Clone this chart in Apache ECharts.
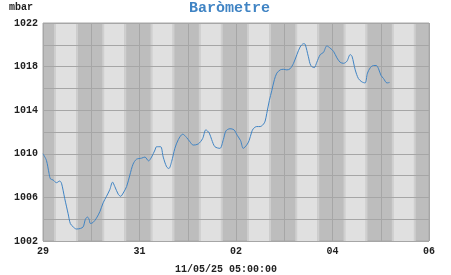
<!DOCTYPE html>
<html>
<head>
<meta charset="utf-8">
<script src="https://cdn.jsdelivr.net/npm/echarts@6/dist/echarts.min.js"></script>
<style>html,body{margin:0;padding:0;background:#fff}#c{width:451px;height:275px}</style>
</head>
<body>
<div id="c"></div>
<script>
// hours since 29 00:00
const hours = [0,1.7,3,3.7,5,6.7,8.3,9.2,10.8,12.5,13.6,15,16.6,18.6,20,21.1,22.1,22.9,23.6,24.9,26.6,28.3,29.9,31.6,33.2,34.6,35.7,37.4,38.6,39.9,41.6,43.2,44.8,46.5,49,50.7,52.5,54,55.7,56.5,58.5,59.8,61.5,62.6,64,65.6,67.3,69.5,71.4,73.1,74.7,77.2,79.4,81,82.7,83.9,85.5,88,89.7,91,93,95,96.6,98.3,99.6,101.3,102.5,103.8,104.6,106.3,108,109.6,110.5,111.3,112.6,113.8,115.1,116.3,118,119.6,121.3,122.9,124.6,126.3,127.9,129.6,130.4,132,133.2,134.9,136.2,137.9,139.5,141.2,142.8,144.5,146.2,147.8,149.5,151.2,152.8,153.7,155.3,156.9,158.6,160.2,161.4,162.8,164.4,165.8,166.9,168.1,169.4,171.1,172.4];
const pressure = [1010.0,1009.4,1008.2,1007.7,1007.6,1007.35,1007.5,1007.3,1005.9,1004.5,1003.6,1003.3,1003.1,1003.15,1003.3,1004.0,1004.2,1004.0,1003.6,1003.7,1004.1,1004.7,1005.5,1006.1,1006.7,1007.4,1007.0,1006.3,1006.1,1006.4,1007.0,1008.05,1009.05,1009.5,1009.6,1009.7,1009.35,1009.7,1010.35,1010.65,1010.65,1009.7,1008.8,1008.65,1009.3,1010.5,1011.3,1011.8,1011.5,1011.1,1010.8,1010.9,1011.4,1012.2,1011.9,1011.3,1010.65,1010.5,1011.3,1012.1,1012.3,1012.2,1011.7,1011.2,1010.5,1010.8,1011.2,1012.0,1012.3,1012.5,1012.5,1012.7,1013.0,1013.7,1014.9,1015.8,1016.8,1017.4,1017.7,1017.75,1017.7,1017.8,1018.3,1019.1,1019.8,1020.1,1020.05,1018.9,1018.1,1017.9,1018.4,1019.1,1019.3,1019.9,1019.7,1019.4,1018.8,1018.4,1018.3,1018.5,1019.1,1018.95,1017.7,1016.9,1016.6,1016.5,1017.4,1017.9,1018.1,1018.1,1017.8,1017.2,1016.9,1016.5,1016.55];
const xTickLabels = ['29','31','02','04','06'];
const yTickLabels = [1002,1006,1010,1014,1018,1022];
const title = 'Baròmetre';
const unit = 'mbar';
const stamp = '11/05/25 05:00:00';
// daily light periods (hours of day)
const twilightStart = 5.5, sunrise = 6.4, sunset = 16.5, twilightEnd = 17.4;
const days = [0,1,2,3,4,5,6,7];

const mono = '"Liberation Mono", "Courier New", monospace';
const bands = [];
days.forEach(d => {
  const b = d * 24;
  bands.push([{xAxis: b + twilightStart, itemStyle: {color: '#cfcfcf'}}, {xAxis: b + sunrise}]);
  bands.push([{xAxis: b + sunrise, itemStyle: {color: '#e0e0e0'}}, {xAxis: b + sunset}]);
  bands.push([{xAxis: b + sunset, itemStyle: {color: '#cfcfcf'}}, {xAxis: b + twilightEnd}]);
});

const chart = echarts.init(document.getElementById('c'), null, {renderer: 'canvas'});
chart.setOption({
  animation: false,
  backgroundColor: '#fff',
  title: {text: title, left: 189, top: 1, padding: 0, textStyle: {fontFamily: mono, fontSize: 15, fontWeight: 'bold', color: '#4084c4'}},
  graphic: [
    {type: 'text', left: 9, top: 2, style: {text: unit, font: 'bold 10px ' + mono, fill: '#222'}},
    {type: 'text', left: 175, top: 264, style: {text: stamp, font: 'bold 10px ' + mono, fill: '#222'}}
  ],
  grid: {left: 43, right: 22, top: 23, bottom: 34, show: true, backgroundColor: '#bdbdbd', borderColor: '#a8a8a8', borderWidth: 1},
  xAxis: {
    type: 'value', min: 0, max: 192, interval: 24, z: 2,
    axisLine: {show: false}, axisTick: {show: false},
    splitLine: {show: true, lineStyle: {color: '#a6a6a6', width: 1}},
    axisLabel: {margin: 5, fontFamily: mono, fontSize: 10, fontWeight: 'bold', color: '#222',
      formatter: v => (v % 48 === 0 ? xTickLabels[v / 48] : '')}
  },
  yAxis: {
    type: 'value', min: 1002, max: 1022, interval: 2, z: 2,
    axisLine: {show: false}, axisTick: {show: false},
    splitLine: {show: true, lineStyle: {color: '#a6a6a6', width: 1}},
    axisLabel: {margin: 5, fontFamily: mono, fontSize: 10, fontWeight: 'bold', color: '#222',
      formatter: v => (yTickLabels.indexOf(v) >= 0 ? String(v) : '')}
  },
  series: [
    {type: 'line', data: [], z: 1, silent: true, markArea: {silent: true, data: bands}},
    {type: 'line', z: 3, data: hours.map((h, i) => [h, pressure[i]]), showSymbol: false, smooth: 0.3,
      lineStyle: {color: '#4084c4', width: 1}}
  ]
});
</script>
</body>
</html>
